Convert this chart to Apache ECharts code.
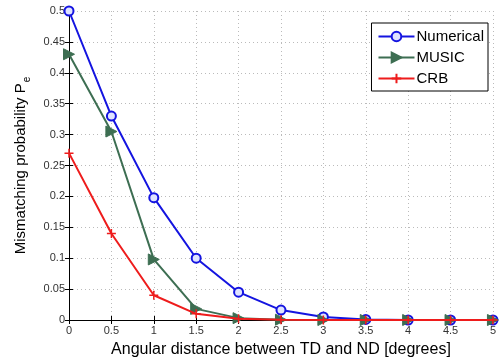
<!DOCTYPE html>
<html><head><meta charset="utf-8">
<script src="https://cdn.jsdelivr.net/npm/echarts@6/dist/echarts.min.js"></script>
<style>html,body{margin:0;padding:0;background:#fff}#c{width:499px;height:363px}</style>
</head><body><div id="c"></div>
<script>
var xValues = [0, 0.5, 1, 1.5, 2, 2.5, 3, 3.5, 4, 4.5, 5];
var numerical = [0.5, 0.33, 0.198, 0.1, 0.045, 0.016, 0.005, 0.001, 0, 0, 0];
var music = [0.43, 0.305, 0.098, 0.018, 0.003, 0.0005, 0, 0, 0, 0, 0];
var crb = [0.27, 0.14, 0.04, 0.01, 0.002, 0.0003, 0, 0, 0, 0, 0];
var seriesNames = ['Numerical', 'MUSIC', 'CRB'];
var xTitle = 'Angular distance between TD and ND [degrees]';
var yTitle = 'Mismatching probability P';

function pairs(v){ return xValues.map(function(x,i){ return [x, v[i]]; }); }
var font = 'Liberation Sans, Arial, sans-serif';
var chart = echarts.init(document.getElementById('c'), null, {renderer:'canvas'});
var axisLine = {show:true, lineStyle:{color:'#000', width:1}};
var split = {show:true, lineStyle:{color:'#bbb', type:[1,3], width:1}};
var tick = {show:true, inside:true, length:4, lineStyle:{color:'#000'}};
chart.setOption({
  animation:false,
  backgroundColor:'#fff',
  textStyle:{fontFamily:font},
  grid:{left:69, right:2, top:11, bottom:39, containLabel:false},
  legend:{
    orient:'vertical', right:11, top:23, itemWidth:36, itemHeight:12, itemGap:6,
    backgroundColor:'#fff', borderColor:'#000', borderWidth:1, padding:[6,4,5,6],
    textStyle:{fontSize:15, color:'#000', fontFamily:font, padding:[0,0,0,-3]},
    data:seriesNames
  },
  xAxis:[{
    type:'value', min:0, max:5, interval:0.5,
    name:xTitle, nameLocation:'middle', nameGap:22,
    nameTextStyle:{fontSize:16, color:'#000', fontFamily:font},
    axisLine:axisLine, axisTick:tick,
    axisLabel:{fontSize:11, color:'#333', margin:5, fontFamily:font},
    splitLine:split
  },{
    type:'value', min:0, max:5, interval:0.5, position:'top',
    axisLine:axisLine, axisTick:tick,
    axisLabel:{show:false}, splitLine:{show:false}
  }],
  yAxis:[{
    type:'value', min:0, max:0.5, interval:0.05,
    name:'{a|' + yTitle + '}{b|e}', nameLocation:'middle', nameGap:37,
    nameTextStyle:{fontSize:15, color:'#000', fontFamily:font,
      rich:{a:{fontSize:15, color:'#000', fontFamily:font, lineHeight:22}, b:{fontSize:10, color:'#000', fontFamily:font, verticalAlign:'bottom', lineHeight:14, padding:[0,0,0,1]}}},
    axisLine:axisLine, axisTick:tick,
    axisLabel:{fontSize:11, color:'#333', margin:4, fontFamily:font,
      formatter:function(v){ return String(Math.round(v*100)/100); }},
    splitLine:split
  },{
    type:'value', min:0, max:0.5, interval:0.05, position:'right',
    axisLine:axisLine, axisTick:tick,
    axisLabel:{show:false}, splitLine:{show:false}
  }],
  series:[
    {name:seriesNames[0], type:'line', data:pairs(numerical), symbol:'circle', symbolSize:9,
     lineStyle:{color:'#1414e0', width:2}, itemStyle:{color:'#dfe3ff', borderColor:'#1414e0', borderWidth:2}, z:3},
    {name:seriesNames[1], type:'line', data:pairs(music), symbol:'path://M0,0 L10,5 L0,10 Z', symbolSize:[11,11],
     lineStyle:{color:'#3d6e52', width:2}, itemStyle:{color:'#3d6e52', borderColor:'#3d6e52', borderWidth:1}, z:4},
    {name:seriesNames[2], type:'line', data:pairs(crb), symbol:'path://M5,0 L5,10 M0,5 L10,5', symbolSize:[9,9],
     lineStyle:{color:'#ee1c1c', width:2}, itemStyle:{color:'#ee1c1c', borderColor:'#ee1c1c', borderWidth:1.5}, z:5}
  ]
});
</script></body></html>
